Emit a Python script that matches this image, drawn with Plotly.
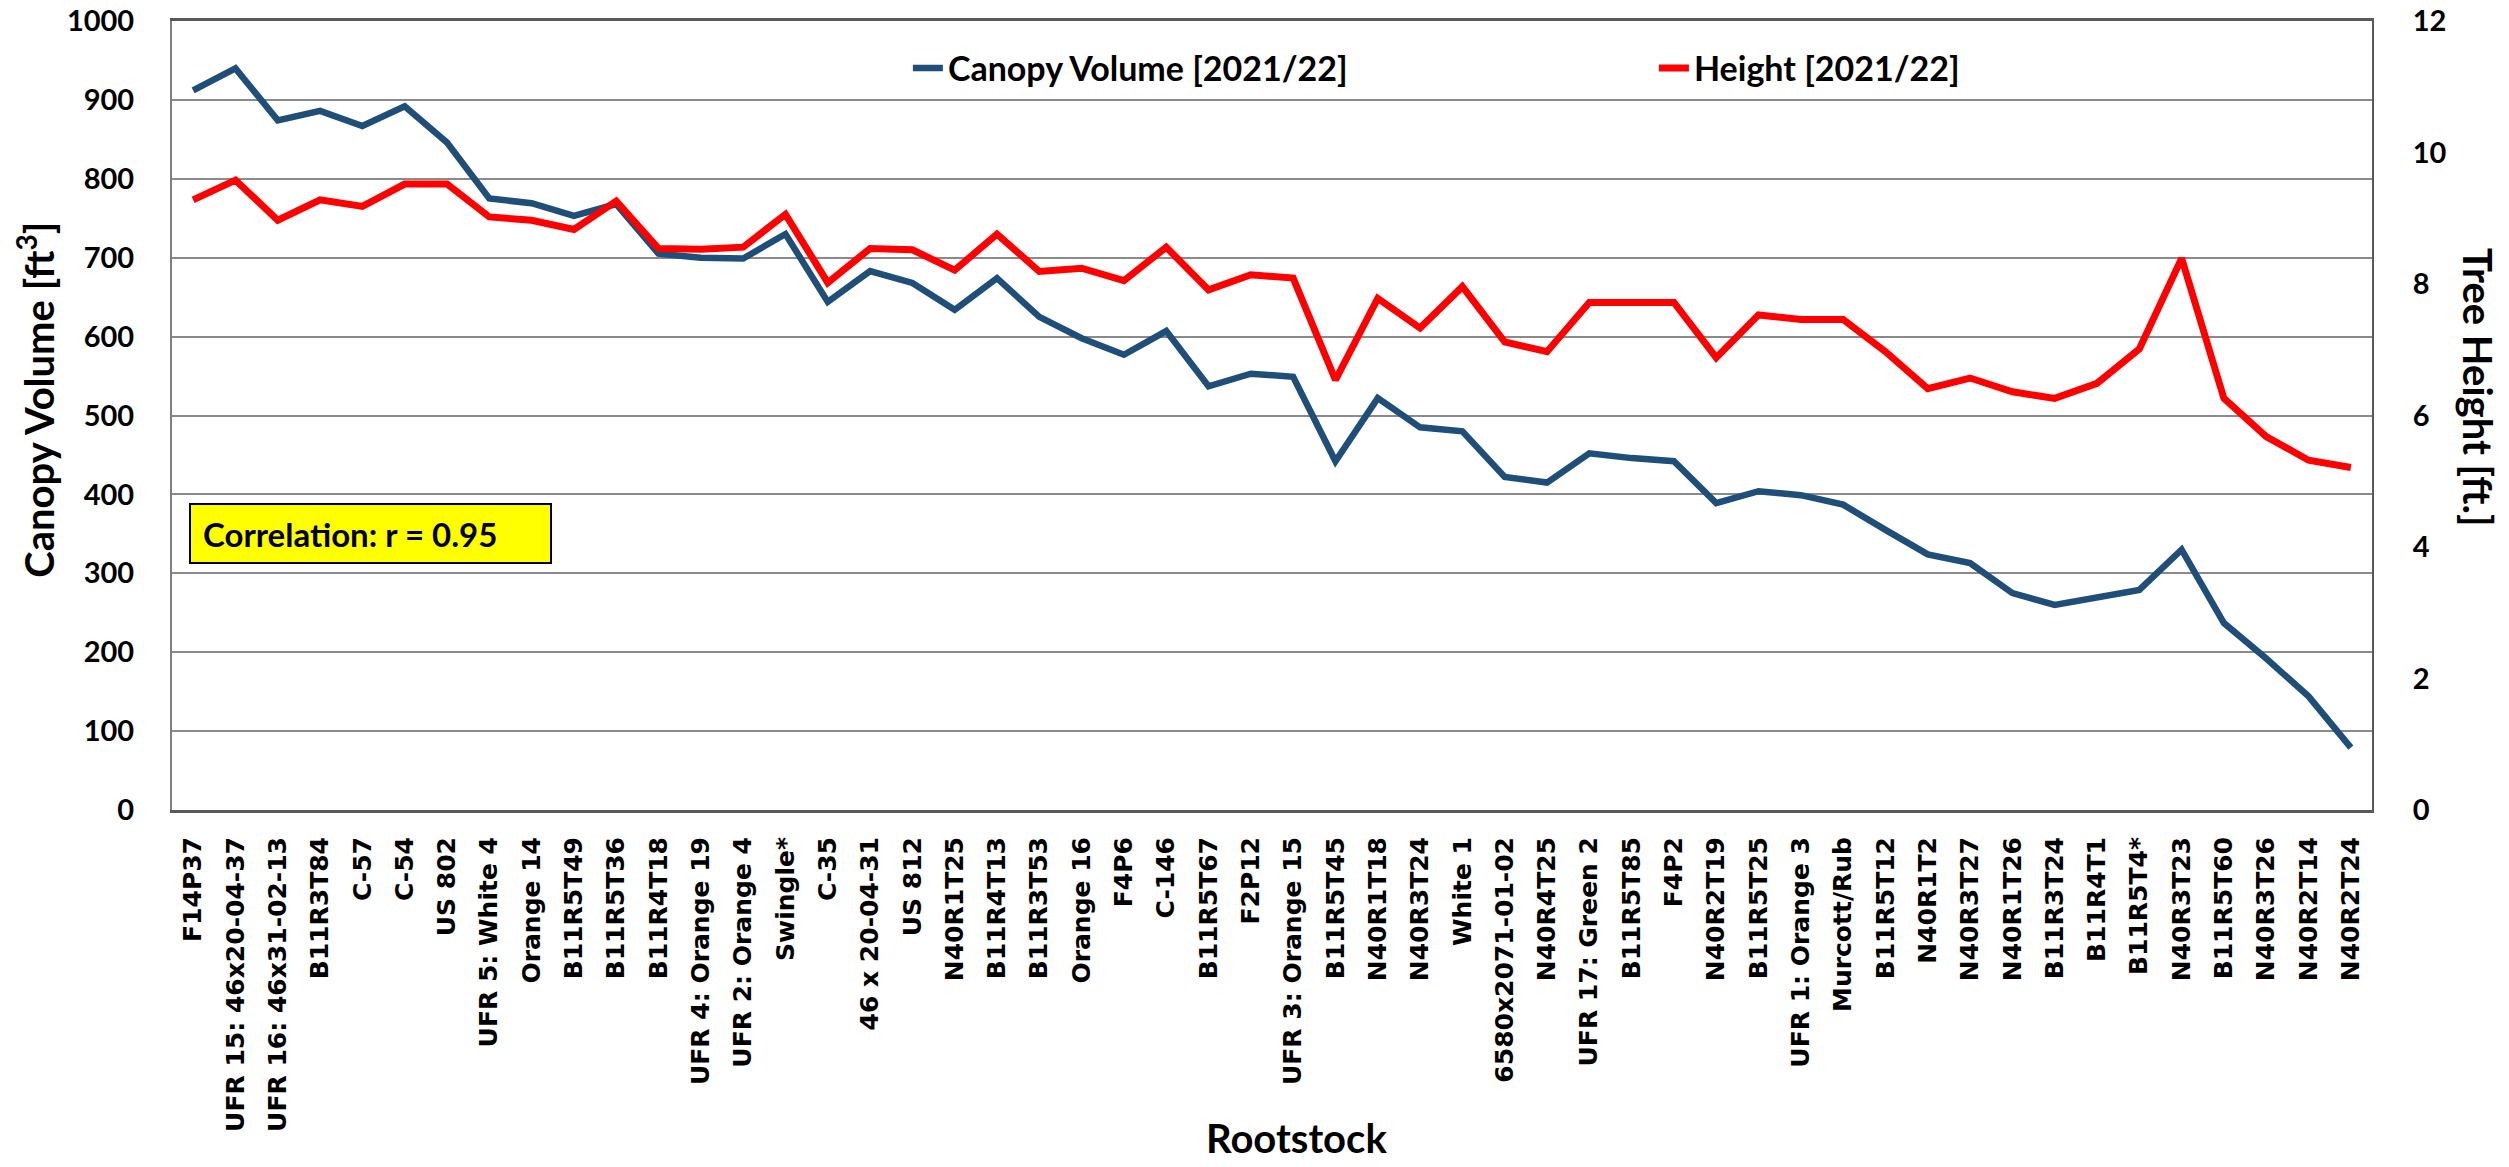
import plotly.graph_objects as go

categories = [
    "F14P37", "UFR 15: 46x20-04-37", "UFR 16: 46x31-02-13", "B11R3T84", "C-57", "C-54",
    "US 802", "UFR 5: White 4", "Orange 14", "B11R5T49", "B11R5T36", "B11R4T18",
    "UFR 4: Orange 19", "UFR 2: Orange 4", "Swingle*", "C-35", "46 x 20-04-31", "US 812",
    "N40R1T25", "B11R4T13", "B11R3T53", "Orange 16", "F4P6", "C-146", "B11R5T67", "F2P12",
    "UFR 3: Orange 15", "B11R5T45", "N40R1T18", "N40R3T24", "White 1", "6580x2071-01-02",
    "N40R4T25", "UFR 17: Green 2", "B11R5T85", "F4P2", "N40R2T19", "B11R5T25",
    "UFR 1: Orange 3", "Murcott/Rub", "B11R5T12", "N40R1T2", "N40R3T27", "N40R1T26",
    "B11R3T24", "B11R4T1", "B11R5T4*", "N40R3T23", "B11R5T60", "N40R3T26", "N40R2T14",
    "N40R2T24",
]

canopy_volume = [
    912, 940, 874, 886, 867, 892, 846, 775, 769, 753, 768, 705, 700, 699, 730, 644,
    683, 668, 634, 674, 625, 598, 577, 607, 537, 553, 549, 442, 522, 485, 480, 422,
    415, 452, 446, 442, 389, 404, 399, 387, 355, 324, 313, 275, 260, 270, 279, 330,
    237, 192, 144, 79,
]

tree_height = [
    9.28, 9.58, 8.97, 9.28, 9.18, 9.52, 9.52, 9.02, 8.97, 8.83, 9.26, 8.54, 8.53, 8.56,
    9.06, 8.02, 8.54, 8.52, 8.21, 8.76, 8.19, 8.24, 8.05, 8.56, 7.91, 8.14, 8.09, 6.54,
    7.78, 7.33, 7.96, 7.12, 6.97, 7.72, 7.72, 7.72, 6.88, 7.53, 7.46, 7.46, 6.97, 6.41,
    6.57, 6.36, 6.26, 6.49, 7.01, 8.39, 6.26, 5.68, 5.32, 5.21,
]

left_ticks = list(range(0, 1001, 100))
right_ticks = list(range(0, 13, 2))

BLUE = "#1F4E79"
RED = "#FF0000"
LABEL_FONT = "Lato, 'Open Sans', sans-serif"

fig = go.Figure()
fig.add_trace(go.Scatter(
    x=categories, y=canopy_volume, mode="lines", name="Canopy Volume [2021/22]",
    line=dict(color=BLUE, width=6.5), yaxis="y", legend="legend",
))
fig.add_trace(go.Scatter(
    x=categories, y=tree_height, mode="lines", name="Height [2021/22]",
    line=dict(color=RED, width=7), yaxis="y2", legend="legend2",
))

fig.update_layout(
    width=2509, height=1167,
    margin=dict(l=172, r=137, t=21, b=357, autoexpand=False),
    paper_bgcolor="white", plot_bgcolor="white",
    showlegend=True,
    legend=dict(
        x=0.3345, y=0.94, xanchor="left", yanchor="middle", orientation="h",
        bgcolor="rgba(0,0,0,0)", font=dict(family=LABEL_FONT, size=34, color="black", weight="bold"),
    ),
    legend2=dict(
        x=0.6736, y=0.94, xanchor="left", yanchor="middle", orientation="h",
        bgcolor="rgba(0,0,0,0)", font=dict(family=LABEL_FONT, size=34, color="black", weight="bold"),
    ),
    xaxis=dict(
        type="category", categoryorder="array", categoryarray=categories,
        range=[-0.5, len(categories) - 0.5], automargin=False,
        tickangle=-90, tickfont=dict(family="'DejaVu Sans', sans-serif", size=25, color="black", weight="bold"),
        ticks="outside", ticklen=14, tickcolor="rgba(0,0,0,0)", ticklabeloverflow="allow",
        showline=True, linecolor="#595959", linewidth=3, mirror=True,
        showgrid=False, zeroline=False,
    ),
    yaxis=dict(
        range=[0, 1000], tickvals=left_ticks, automargin=False,
        tickfont=dict(family=LABEL_FONT, size=29, color="black", weight="bold"),
        ticks="outside", ticklen=30, tickcolor="rgba(0,0,0,0)", ticklabeloverflow="allow",
        showline=True, linecolor="#808080", linewidth=2,
        showgrid=True, gridcolor="#8A8A8A", gridwidth=2, zeroline=False,
    ),
    yaxis2=dict(
        range=[0, 12], tickvals=right_ticks, overlaying="y", side="right", automargin=False,
        tickfont=dict(family=LABEL_FONT, size=29, color="black", weight="bold"),
        ticks="outside", ticklen=33, tickcolor="rgba(0,0,0,0)", ticklabeloverflow="allow",
        showline=True, linecolor="#595959", linewidth=2,
        showgrid=False, zeroline=False,
    ),
    annotations=[
        dict(
            text="Correlation: r = 0.95", xref="paper", yref="paper", x=0.0077, y=0.389,
            xanchor="left", yanchor="top", showarrow=False, align="left",
            bgcolor="#FFFF00", bordercolor="black", borderwidth=2, borderpad=12,
            width=335, height=33,
            font=dict(family=LABEL_FONT, size=33, color="black", weight="bold"),
        ),
        dict(
            text="Canopy Volume [ft<sup>3</sup>]", xref="paper", yref="paper",
            x=(36 - 172) / 2200, y=0.52, xanchor="center", yanchor="middle",
            textangle=-90, showarrow=False,
            font=dict(family=LABEL_FONT, size=40, color="black", weight="bold"),
        ),
        dict(
            text="Tree Height [ft.]", xref="paper", yref="paper",
            x=(2478 - 172) / 2200, y=0.536, xanchor="center", yanchor="middle",
            textangle=90, showarrow=False,
            font=dict(family=LABEL_FONT, size=40, color="black", weight="bold"),
        ),
        dict(
            text="Rootstock", xref="paper", yref="paper",
            x=(1296 - 172) / 2200, y=(810 - 1138) / 789, xanchor="center", yanchor="middle",
            showarrow=False,
            font=dict(family=LABEL_FONT, size=40, color="black", weight="bold"),
        ),
    ],
)

# remove the page's default body margin so the figure fills the window exactly
fig.write_html(
    "out.html",
    config={"displayModeBar": False},
    post_script="document.body.style.margin='0';",
)
